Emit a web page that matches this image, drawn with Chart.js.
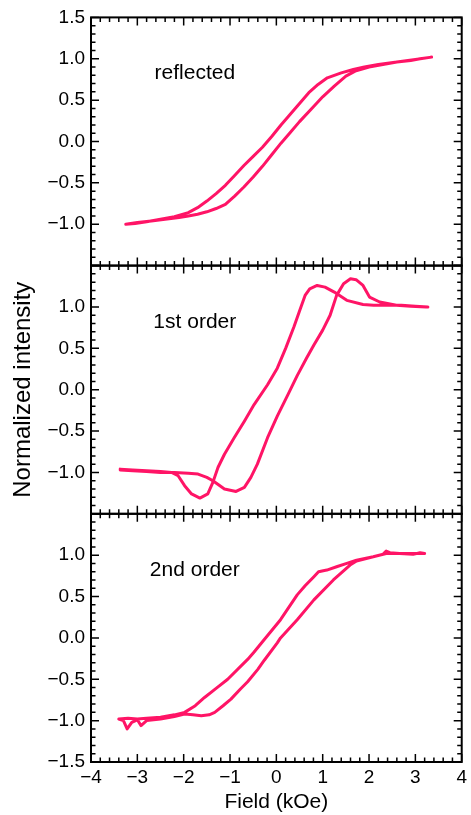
<!DOCTYPE html>
<html>
<head>
<meta charset="utf-8">
<script src="https://cdn.jsdelivr.net/npm/chart.js@4/dist/chart.umd.min.js"></script>
<style>
  html, body { margin: 0; padding: 0; background: #fff; }
  #wrap { width: 471px; height: 815px; }
</style>
</head>
<body>
<div id="wrap"><canvas id="loops" width="471" height="815"></canvas></div>
<script>
// Hysteresis loops of the normalized intensity, three diffraction orders.
// Each loop = field sweep up (-H -> +H) and sweep down (+H -> -H), [field kOe, intensity].
const reflectedSweepUp = [
  [-3.25,-1.00],[-3.0,-0.98],[-2.7,-0.96],[-2.4,-0.94],[-2.1,-0.92],[-1.9,-0.90],[-1.7,-0.88],
  [-1.5,-0.85],[-1.3,-0.81],[-1.1,-0.76],[-0.9,-0.66],[-0.7,-0.55],[-0.5,-0.43],[-0.3,-0.30],
  [-0.1,-0.16],[0.1,-0.02],[0.3,0.11],[0.5,0.24],[0.8,0.42],[1.0,0.54],[1.25,0.67],[1.5,0.79],
  [1.7,0.85],[2.0,0.90],[2.3,0.93],[2.6,0.96],[2.9,0.98],[3.1,1.00],[3.35,1.02]
];
const reflectedSweepDown = [
  [3.35,1.02],[3.0,0.99],[2.6,0.96],[2.2,0.93],[1.9,0.90],[1.66,0.87],[1.4,0.83],[1.1,0.77],
  [0.9,0.69],[0.7,0.59],[0.5,0.46],[0.3,0.33],[0.1,0.20],[-0.1,0.06],[-0.3,-0.07],[-0.5,-0.18],
  [-0.7,-0.29],[-0.9,-0.41],[-1.1,-0.53],[-1.3,-0.63],[-1.5,-0.72],[-1.7,-0.80],[-1.9,-0.86],
  [-2.2,-0.91],[-2.5,-0.94],[-2.8,-0.97],[-3.05,-0.99],[-3.25,-1.00]
];

const firstOrderSweepUp = [
  [-3.37,-0.97],[-3.1,-0.98],[-2.8,-0.99],[-2.5,-1.00],[-2.2,-1.00],[-1.9,-1.01],[-1.69,-1.02],
  [-1.5,-1.06],[-1.37,-1.10],[-1.12,-1.20],[-0.87,-1.23],[-0.69,-1.18],[-0.55,-1.06],[-0.41,-0.90],
  [-0.19,-0.58],[0.02,-0.32],[0.25,-0.06],[0.45,0.17],[0.65,0.38],[0.81,0.54],[1.0,0.72],
  [1.16,0.90],[1.3,1.14],[1.45,1.28],[1.6,1.34],[1.72,1.33],[1.87,1.26],[2.01,1.12],[2.23,1.06],
  [2.59,1.02],[2.9,1.01],[3.23,1.00]
];
const firstOrderSweepDown = [
  [3.27,1.00],[3.0,1.01],[2.7,1.02],[2.37,1.02],[2.1,1.02],[1.87,1.03],[1.52,1.08],[1.25,1.18],
  [1.05,1.24],[0.88,1.26],[0.72,1.22],[0.62,1.14],[0.5,0.95],[0.38,0.76],[0.2,0.50],[0.02,0.26],
  [-0.19,0.06],[-0.48,-0.18],[-0.69,-0.38],[-0.91,-0.58],[-1.12,-0.78],[-1.26,-0.94],[-1.37,-1.12],
  [-1.48,-1.26],[-1.65,-1.31],[-1.83,-1.26],[-1.98,-1.16],[-2.12,-1.04],[-2.26,-1.00],[-2.5,-0.99],
  [-2.8,-0.98],[-3.1,-0.97],[-3.37,-0.96]
];

const secondOrderSweepUp = [
  [-3.4,-0.98],[-3.3,-1.00],[-3.22,-1.10],[-3.12,-1.02],[-3.0,-0.99],[-2.92,-1.06],[-2.8,-1.00],
  [-2.5,-0.98],[-2.2,-0.95],[-1.98,-0.92],[-1.8,-0.93],[-1.62,-0.94],[-1.45,-0.93],[-1.33,-0.90],
  [-1.15,-0.82],[-0.98,-0.74],[-0.78,-0.62],[-0.62,-0.53],[-0.4,-0.38],[-0.26,-0.27],[0.02,-0.06],
  [0.09,0.00],[0.45,0.22],[0.81,0.46],[1.23,0.70],[1.59,0.88],[1.73,0.93],[2.09,0.98],[2.3,1.01],
  [2.37,1.05],[2.45,1.03],[2.66,1.02],[2.95,1.01],[3.1,1.03],[3.2,1.02]
];
const secondOrderSweepDown = [
  [3.2,1.02],[2.95,1.02],[2.66,1.02],[2.37,1.02],[2.09,0.98],[1.73,0.94],[1.52,0.90],[1.3,0.86],
  [1.09,0.82],[0.91,0.80],[0.81,0.74],[0.62,0.63],[0.45,0.52],[0.09,0.22],[-0.26,-0.02],
  [-0.48,-0.17],[-0.62,-0.26],[-1.05,-0.50],[-1.3,-0.61],[-1.55,-0.72],[-1.75,-0.82],[-1.98,-0.90],
  [-2.2,-0.93],[-2.5,-0.96],[-2.8,-0.97],[-3.0,-0.98],[-3.2,-0.97],[-3.4,-0.98]
];

const panelNames = ['reflected', '1st order', '2nd order'];
const panelNameAt = [-1.76, 0.82];          // [field, intensity] where each name sits
const intensityRange = [-1.5, 1.5];
const fieldRange = [-4, 4];
const xAxisTitle = 'Field (kOe)';
const yAxisTitle = 'Normalized intensity';

const LOOP_COLOR = '#ff1466';
const FONT = '"Liberation Sans", Arial, Helvetica, sans-serif';
const AXIS_W = 91;

const toXY = pts => pts.map(p => ({ x: p[0], y: p[1] }));
const minus = s => s.replace('-', '\u2212');

function loopDataset(up, down, axis) {
  return {
    data: toXY(up.concat(down)),
    yAxisID: axis,
    showLine: true,
    borderColor: LOOP_COLOR,
    backgroundColor: LOOP_COLOR,
    borderWidth: 3,
    pointRadius: 0,
    tension: 0,
    borderJoinStyle: 'round',
    borderCapStyle: 'round'
  };
}

function yScale(showTop, showBottom, withTitle) {
  return {
    type: 'linear',
    position: 'left',
    stack: 'panels',
    stackWeight: 1,
    min: intensityRange[0],
    max: intensityRange[1],
    grid: { display: false, drawTicks: false },
    border: { display: false },
    ticks: {
      stepSize: 0.5,
      autoSkip: false,
      padding: 6,
      color: '#000',
      font: { family: FONT, size: 19 },
      callback: v => {
        if (v >= intensityRange[1] - 1e-9 && !showTop) return '';
        if (v <= intensityRange[0] + 1e-9 && !showBottom) return '';
        return minus((Math.abs(v) < 1e-9 ? 0 : v).toFixed(1));
      }
    },
    title: {
      display: withTitle,
      text: yAxisTitle,
      color: '#000',
      font: { family: FONT, size: 24 },
      padding: { top: 9, bottom: 0 }
    },
    afterFit: s => { s.width = AXIS_W; }
  };
}

// Frames with inward ticks on all four sides of each panel, plus the panel names.
const framePlugin = {
  id: 'panelFrames',
  afterDatasetsDraw(chart) {
    const ctx = chart.ctx;
    const xs = chart.scales.x;
    const L = chart.chartArea.left, R = chart.chartArea.right;
    ['yTop', 'yMid', 'yBot'].forEach((id, i) => {
      const ys = chart.scales[id];
      const T = ys.top, B = ys.bottom;
      ctx.save();
      ctx.strokeStyle = '#000';
      ctx.lineWidth = 1.5;
      ctx.beginPath();
      // vertical-axis ticks every 0.1, long at every 0.5
      for (let k = -15; k <= 15; k++) {
        const py = ys.getPixelForValue(k / 10);
        const len = (k % 5 === 0) ? 8 : 4.5;
        ctx.moveTo(L, py); ctx.lineTo(L + len, py);
        ctx.moveTo(R, py); ctx.lineTo(R - len, py);
      }
      // horizontal-axis ticks every 0.2, long at every 1
      for (let k = -20; k <= 20; k++) {
        const px = xs.getPixelForValue(k / 5);
        const len = (k % 5 === 0) ? 8 : 4.5;
        ctx.moveTo(px, T); ctx.lineTo(px, T + len);
        ctx.moveTo(px, B); ctx.lineTo(px, B - len);
      }
      ctx.stroke();
      ctx.lineWidth = 2;
      ctx.strokeRect(L, T, R - L, B - T);
      ctx.fillStyle = '#000';
      ctx.font = '21px ' + FONT;
      ctx.textAlign = 'center';
      ctx.textBaseline = 'middle';
      ctx.fillText(panelNames[i], xs.getPixelForValue(panelNameAt[0]), ys.getPixelForValue(panelNameAt[1]));
      ctx.restore();
    });
  }
};

new Chart(document.getElementById('loops'), {
  type: 'scatter',
  data: {
    datasets: [
      loopDataset(reflectedSweepUp, reflectedSweepDown, 'yTop'),
      loopDataset(firstOrderSweepUp, firstOrderSweepDown, 'yMid'),
      loopDataset(secondOrderSweepUp, secondOrderSweepDown, 'yBot')
    ]
  },
  options: {
    responsive: false,
    animation: false,
    devicePixelRatio: 1,
    layout: { padding: { top: 14, right: 5, left: 0, bottom: 0 } },
    plugins: { legend: { display: false }, tooltip: { enabled: false } },
    scales: {
      yBot: yScale(false, true, false),
      yMid: yScale(false, false, true),
      yTop: yScale(true, false, false),
      x: {
        type: 'linear',
        position: 'bottom',
        min: fieldRange[0],
        max: fieldRange[1],
        grid: { display: false, drawTicks: false },
        border: { display: false },
        ticks: {
          stepSize: 1,
          autoSkip: false,
          padding: 4,
          color: '#000',
          font: { family: FONT, size: 19 },
          callback: v => minus(String(v))
        },
        title: {
          display: true,
          text: xAxisTitle,
          color: '#000',
          font: { family: FONT, size: 21 },
          padding: { top: 0, bottom: 0 }
        },
        afterFit: s => { s.height = 53; }
      }
    }
  },
  plugins: [framePlugin]
});
</script>
</body>
</html>
